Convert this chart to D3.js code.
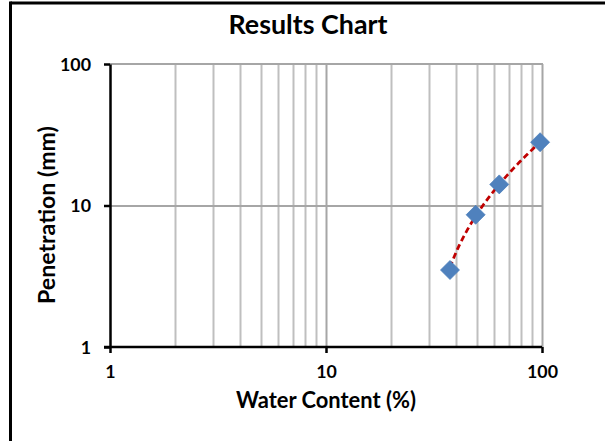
<!DOCTYPE html>
<html>
<head>
<meta charset="utf-8">
<script src="https://cdn.jsdelivr.net/npm/d3@7"></script>
<style>
  html, body { margin: 0; padding: 0; background: #fff; }
  svg { display: block; }
  text { font-family: Lato, "Open Sans", sans-serif; font-weight: bold; fill: #000; }
</style>
</head>
<body>
<svg id="chart" width="605" height="441"></svg>
<script>
// ---- data ----
const waterContent = [37.5, 49.3, 63.4, 98];     // x values (%)
const penetration  = [3.5, 8.6, 14.1, 28.0];      // y values (mm)
const xTickValues  = [1, 10, 100];
const yTickValues  = [1, 10, 100];
const titleText  = "Results Chart";
const xTitleText = "Water Content (%)";
const yTitleText = "Penetration (mm)";

const svg = d3.select("#chart");
const W = 605, H = 441;
const plot = { left: 110, right: 542, top: 64, bottom: 347 };

const x = d3.scaleLog().domain([1, 100]).range([plot.left, plot.right]);
const y = d3.scaleLog().domain([1, 100]).range([plot.bottom, plot.top]);

// outer frame (top & left only visible)
svg.append("line").attr("x1", 10.5).attr("x2", W).attr("y1", 3).attr("y2", 3)
  .attr("stroke", "#000").attr("stroke-width", 3);
svg.append("line").attr("x1", 10.5).attr("x2", 10.5).attr("y1", 1.5).attr("y2", H)
  .attr("stroke", "#000").attr("stroke-width", 3);

// gridlines
const minorX = [];
for (let d = 1; d <= 10; d *= 10) for (let k = 2; k <= 9; k++) minorX.push(k * d);
const g = svg.append("g");
g.selectAll(".vminor").data(minorX).join("line")
  .attr("x1", d => Math.round(x(d)) + 0.5).attr("x2", d => Math.round(x(d)) + 0.5)
  .attr("y1", plot.top).attr("y2", plot.bottom)
  .attr("stroke", "#BFBFBF").attr("stroke-width", 2);
g.selectAll(".vmajor").data(xTickValues.slice(1)).join("line")
  .attr("x1", d => Math.round(x(d)) + 0.5).attr("x2", d => Math.round(x(d)) + 0.5)
  .attr("y1", plot.top).attr("y2", plot.bottom)
  .attr("stroke", "#A6A6A6").attr("stroke-width", 2);
g.selectAll(".hmajor").data(yTickValues.slice(1)).join("line")
  .attr("x1", plot.left).attr("x2", plot.right + 1)
  .attr("y1", d => Math.round(y(d))).attr("y2", d => Math.round(y(d)))
  .attr("stroke", "#A6A6A6").attr("stroke-width", 2);

// axes
const xAxis = d3.axisBottom(x).tickValues(xTickValues).tickFormat(d3.format("d")).tickSizeInner(6).tickSizeOuter(0).tickPadding(14);
const yAxis = d3.axisLeft(y).tickValues(yTickValues).tickFormat(d3.format("d")).tickSizeInner(6).tickSizeOuter(0).tickPadding(13);

const gx = svg.append("g").attr("transform", `translate(0,${plot.bottom})`).call(xAxis);
const gy = svg.append("g").attr("transform", `translate(${plot.left},0)`).call(yAxis);

// size tick labels so "100" is about 32px wide
const probe = svg.append("text").attr("font-size", 20).text("100");
const tickFs = 20 * 31 / probe.node().getComputedTextLength();
probe.remove();

[gx, gy].forEach(a => {
  a.select(".domain").attr("stroke", "#000").attr("stroke-width", 2.5);
  a.selectAll(".tick line").attr("stroke", "#000").attr("stroke-width", 2.5);
  a.selectAll(".tick text").attr("font-family", "Lato, sans-serif").attr("font-weight", "bold")
    .attr("font-size", tickFs).attr("fill", "#000");
});
gx.select(".domain").attr("d", `M${plot.left - 6},0H${plot.right}`);
gx.selectAll(".tick line").attr("y1", 0).attr("y2", 6);
gx.selectAll(".tick text").attr("dy", "0.6em");
gy.selectAll(".tick text").attr("dy", "0.34em");

// linear trendline (least squares), drawn across the data range
const n = waterContent.length;
const mx = d3.mean(waterContent), my = d3.mean(penetration);
let sxy = 0, sxx = 0;
for (let i = 0; i < n; i++) { sxy += (waterContent[i] - mx) * (penetration[i] - my); sxx += (waterContent[i] - mx) ** 2; }
const slope = sxy / sxx, intercept = my - slope * mx;
const xMin = d3.min(waterContent), xMax = d3.max(waterContent);
const trend = d3.range(0, 61).map(i => {
  const xv = xMin * Math.pow(xMax / xMin, i / 60);
  return [xv, slope * xv + intercept];
});
svg.append("path").datum(trend)
  .attr("d", d3.line().x(d => x(d[0])).y(d => y(d[1])))
  .attr("fill", "none").attr("stroke", "#C00000").attr("stroke-width", 2.75)
  .attr("stroke-dasharray", "6,3.5");

// markers (diamonds)
const pts = waterContent.map((v, i) => [v, penetration[i]]);
svg.selectAll(".pt").data(pts).join("path")
  .attr("transform", d => `translate(${x(d[0])},${y(d[1])})`)
  .attr("d", "M0,-9.5L9.5,0L0,9.5L-9.5,0Z")
  .attr("fill", "#4F81BD").attr("stroke", "#4A7EBB").attr("stroke-width", 0.75);

// titles
function fit(sel, target) {
  const len = sel.node().getComputedTextLength();
  const fs = parseFloat(sel.attr("font-size"));
  sel.attr("font-size", fs * target / len);
}
const t = svg.append("text").attr("x", 308).attr("y", 34).attr("text-anchor", "middle")
  .attr("font-size", 22).text(titleText);
fit(t, 159);
const xt = svg.append("text").attr("x", 326).attr("y", 408).attr("text-anchor", "middle")
  .attr("font-size", 18).text(xTitleText);
fit(xt, 180);
const yt = svg.append("text").attr("transform", "translate(55,215) rotate(-90)")
  .attr("text-anchor", "middle").attr("font-size", 18).text(yTitleText);
fit(yt, 178);
</script>
</body>
</html>
